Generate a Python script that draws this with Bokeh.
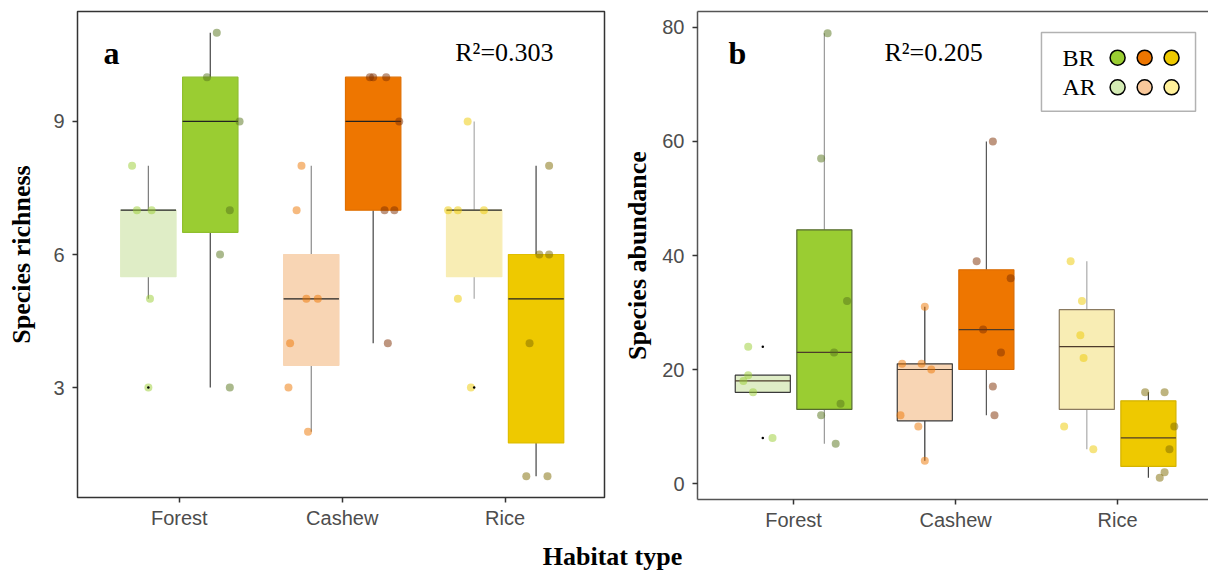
from bokeh.plotting import figure
from bokeh.layouts import row, column
from bokeh.models import Range1d, FixedTicker, Label, LinearAxis, BoxAnnotation
from bokeh.embed import file_html
from bokeh.resources import INLINE

# ---------------- data ----------------
habitats = ["Forest", "Cashew", "Rice"]

# panel a: species richness (box statistics)
rich_ar_lo = [5, 2, 5]
rich_ar_q1 = [5.5, 3.5, 5.5]
rich_ar_med = [7, 5, 7]
rich_ar_q3 = [7, 6, 7]
rich_ar_hi = [8, 8, 9]
rich_br_lo = [3, 4, 1]
rich_br_q1 = [6.5, 7, 1.75]
rich_br_med = [9, 9, 5]
rich_br_q3 = [10, 10, 6]
rich_br_hi = [11, 10, 8]
rich_ar_points = [[8, 7, 7, 5, 3], [8, 7, 5, 5, 4, 3, 2], [9, 7, 7, 7, 5, 3]]
rich_ar_jitter = [[-0.10, -0.07, 0.02, 0.01, 0.0],
                  [-0.06, -0.09, -0.03, 0.04, -0.13, -0.14, -0.02],
                  [-0.04, -0.16, -0.10, 0.06, -0.10, -0.02]]
rich_br_points = [[11, 10, 9, 7, 6, 3], [10, 10, 10, 9, 7, 7, 4], [8, 6, 6, 4, 1, 1]]
rich_br_jitter = [[0.04, -0.02, 0.18, 0.12, 0.06, 0.12],
                  [-0.02, 0.0, 0.08, 0.16, 0.07, 0.13, 0.09],
                  [0.08, 0.02, 0.08, -0.04, -0.06, 0.07]]
rich_ar_outliers = [[3], [], [3]]
rich_br_outliers = [[], [], []]
rich_r2 = "R²=0.303"

# panel b: species abundance
abund_ar_lo = [16, 4, 6]
abund_ar_q1 = [16, 11, 13]
abund_ar_med = [18, 20, 24]
abund_ar_q3 = [19, 21, 30.5]
abund_ar_hi = [19, 31, 39]
abund_br_lo = [7, 12, 1]
abund_br_q1 = [13, 20, 3]
abund_br_med = [23, 27, 8]
abund_br_q3 = [44.5, 37.5, 14.5]
abund_br_hi = [79, 60, 16]
abund_ar_points = [[24, 19, 18, 16, 8], [31, 21, 21, 20, 12, 10, 4], [39, 32, 26, 22, 10, 6]]
abund_ar_jitter = [[-0.09, -0.09, -0.12, -0.06, 0.06],
                   [0.0, -0.14, -0.02, 0.04, -0.15, -0.04, 0.0],
                   [-0.10, -0.03, -0.04, -0.02, -0.14, 0.04]]
abund_br_points = [[79, 57, 32, 23, 14, 12, 7], [60, 39, 36, 27, 23, 17, 12], [16, 16, 10, 6, 2, 1]]
abund_br_jitter = [[0.02, -0.02, 0.14, 0.06, 0.10, -0.02, 0.07],
                   [0.04, -0.06, 0.15, -0.02, 0.09, 0.04, 0.05],
                   [-0.02, 0.10, 0.16, 0.13, 0.10, 0.07]]
abund_ar_outliers = [[24, 8], [], []]
abund_br_outliers = [[], [], []]
abund_r2 = "R²=0.205"

legend_groups = ["BR", "AR"]

# ---------------- styles ----------------
BR_FILL = ["#9ACD32", "#EE7600", "#EEC900"]
AR_FILL = ["#DFEDC6", "#F8D5B4", "#F8EDB4"]
BR_PT = ["#557319", "#7D2D00", "#7D6900"]
AR_PT = ["#9ACD32", "#EE7600", "#EEC900"]
LEG_AR = ["#D4EBB4", "#F9C89A", "#FFF09A"]
DODGE = 0.19
BOXW = 0.34
TICK_FONT = "Liberation Sans"
SERIF = "Liberation Serif"


def style_axes(p, ylabel, ticks, standoff):
    p.xaxis.ticker = FixedTicker(ticks=[1, 2, 3])
    p.xaxis.major_label_overrides = {i + 1: h for i, h in enumerate(habitats)}
    p.yaxis.ticker = FixedTicker(ticks=ticks)
    for ax in (p.xaxis[0], p.yaxis[0]):
        ax.major_label_text_font = TICK_FONT
        ax.major_label_text_font_size = "20px"
        ax.major_label_text_color = "#4d4d4d"
        ax.major_tick_out = 5
        ax.major_tick_in = 0
        ax.minor_tick_out = 0
        ax.minor_tick_in = 0
        ax.major_tick_line_color = "#333333"
        ax.major_tick_line_width = 1.5
    p.xaxis.major_label_standoff = 4
    p.yaxis.major_label_standoff = 8
    p.yaxis.axis_label = ylabel
    p.yaxis.axis_label_text_font = SERIF
    p.yaxis.axis_label_text_font_style = "bold"
    p.yaxis.axis_label_text_font_size = "26px"
    p.yaxis.axis_label_text_color = "black"
    p.yaxis.axis_label_standoff = standoff
    p.xgrid.grid_line_color = None
    p.ygrid.grid_line_color = None


def draw_boxes(p, lo, q1, med, q3, hi, offset, fills, lines, wcolors, mcolor):
    xs = [i + 1 + offset for i in range(len(habitats))]
    for i, x in enumerate(xs):
        p.segment(x0=[x, x], x1=[x, x], y0=[lo[i], q3[i]], y1=[q1[i], hi[i]],
                  line_color=wcolors[i], line_width=1.2)
    p.vbar(x=xs, width=BOXW, bottom=q1, top=q3, fill_color=fills,
           line_color=lines, line_width=1.2)
    p.segment(x0=[x - BOXW / 2 for x in xs], x1=[x + BOXW / 2 for x in xs],
              y0=med, y1=med, line_color=mcolor, line_width=1.2)


def draw_points(p, pts, jit, outl, offset, colors):
    for i in range(len(habitats)):
        xs = [i + 1 + offset + j for j in jit[i]]
        p.scatter(x=xs, y=pts[i], size=8, fill_color=colors[i], fill_alpha=0.5,
                  line_color=None)
        if outl[i]:
            p.scatter(x=[i + 1 + offset] * len(outl[i]), y=outl[i], size=2.5,
                      fill_color="black", line_color=None)


# ---------------- panel a ----------------
pa = figure(frame_width=527, frame_height=486, min_border_left=77, min_border_right=8,
            min_border_top=11, min_border_bottom=40,
            x_range=Range1d(0.375, 3.61), y_range=Range1d(0.52, 11.48),
            output_backend="svg", toolbar_location=None)
style_axes(pa, "Species richness", [3, 6, 9], 14)
pa.outline_line_color = "#333333"
pa.outline_line_width = 1.5
pa.xaxis.axis_line_color = None
pa.yaxis.axis_line_color = None

draw_boxes(pa, rich_ar_lo, rich_ar_q1, rich_ar_med, rich_ar_q3, rich_ar_hi, -DODGE,
           AR_FILL, AR_FILL, ["#7a7a7a", "#8a8a8a", "#aaaaaa"], "#222222")
draw_boxes(pa, rich_br_lo, rich_br_q1, rich_br_med, rich_br_q3, rich_br_hi, DODGE,
           BR_FILL, ["#8fbf2e", "#e06f00", "#e0be00"], ["#444444", "#444444", "#444444"], "#222222")
draw_points(pa, rich_ar_points, rich_ar_jitter, rich_ar_outliers, -DODGE, AR_PT)
draw_points(pa, rich_br_points, rich_br_jitter, rich_br_outliers, DODGE, BR_PT)

pa.add_layout(Label(x=0.535, y=10.55, text="a", text_font=SERIF, text_font_style="bold",
                    text_font_size="32px", text_color="black",
                    text_baseline="middle", text_align="left"))
pa.add_layout(Label(x=2.694, y=10.55, text=rich_r2, text_font=SERIF, text_color="black",
                    text_font_size="26px", text_baseline="middle", text_align="left"))

# ---------------- panel b ----------------
pb = figure(frame_width=511, frame_height=488, min_border_left=85, min_border_right=0,
            min_border_top=11, min_border_bottom=38,
            x_range=Range1d(0.407, 3.561), y_range=Range1d(-2.8, 82.8),
            output_backend="svg", toolbar_location=None)
style_axes(pb, "Species abundance", [0, 20, 40, 60, 80], 7)
pb.outline_line_color = None
pb.xaxis.axis_line_color = "#555555"
pb.xaxis.axis_line_width = 1.5
pb.yaxis.axis_line_color = "#555555"
pb.yaxis.axis_line_width = 1.5
top_axis = LinearAxis(ticker=FixedTicker(ticks=[]), major_tick_out=0, major_tick_in=0,
                      minor_tick_out=0, minor_tick_in=0,
                      axis_line_color="#555555", axis_line_width=1.5)
pb.add_layout(top_axis, "above")

draw_boxes(pb, abund_ar_lo, abund_ar_q1, abund_ar_med, abund_ar_q3, abund_ar_hi, -DODGE,
           AR_FILL, ["#3a3a3a", "#3a3a3a", "#8a7a60"], ["#888888", "#333333", "#aaaaaa"], "#4d3b2a")
draw_boxes(pb, abund_br_lo, abund_br_q1, abund_br_med, abund_br_q3, abund_br_hi, DODGE,
           BR_FILL, ["#556b2f", "#d96a00", "#d4b300"], ["#999999", "#555555", "#444444"], "#4d3b2a")
draw_points(pb, abund_ar_points, abund_ar_jitter, abund_ar_outliers, -DODGE, AR_PT)
draw_points(pb, abund_br_points, abund_br_jitter, abund_br_outliers, DODGE, BR_PT)

pb.add_layout(Label(x=0.598, y=75.6, text="b", text_font=SERIF, text_font_style="bold",
                    text_font_size="32px", text_color="black",
                    text_baseline="middle", text_align="left"))
pb.add_layout(Label(x=1.561, y=75.6, text=abund_r2, text_font=SERIF, text_color="black",
                    text_font_size="26px", text_baseline="middle", text_align="left"))

# legend (BR / AR rows with three habitat colours)
pb.add_layout(BoxAnnotation(left=2.530, right=3.481, bottom=65.3, top=79.1,
                            fill_alpha=0, line_color="black", line_width=1.5))
leg_y = [74.7, 69.5]
leg_x = [3.0, 3.167, 3.333]
for r, g in enumerate(legend_groups):
    pb.add_layout(Label(x=2.66, y=leg_y[r], text=g, text_font=SERIF, text_font_size="24px",
                        text_color="black", text_baseline="middle", text_align="left"))
    cols = BR_FILL if g == "BR" else LEG_AR
    pb.scatter(x=leg_x, y=[leg_y[r]] * 3, size=15, fill_color=cols,
               line_color="black", line_width=1.5)

# ---------------- shared x title ----------------
pc = figure(width=1208, height=34, x_range=Range1d(0, 1), y_range=Range1d(0, 1),
            x_axis_location=None, y_axis_location=None, min_border=0,
            output_backend="svg", toolbar_location=None)
pc.outline_line_color = None
pc.xgrid.grid_line_color = None
pc.ygrid.grid_line_color = None
pc.add_layout(Label(x=0.5, y=0.44, x_offset=8, text="Habitat type", text_font=SERIF,
                    text_font_style="bold", text_font_size="26px", text_color="black",
                    text_align="center", text_baseline="middle"))

layout = column(row(pa, pb), pc)
open("out.html", "w").write(file_html(layout, INLINE))
